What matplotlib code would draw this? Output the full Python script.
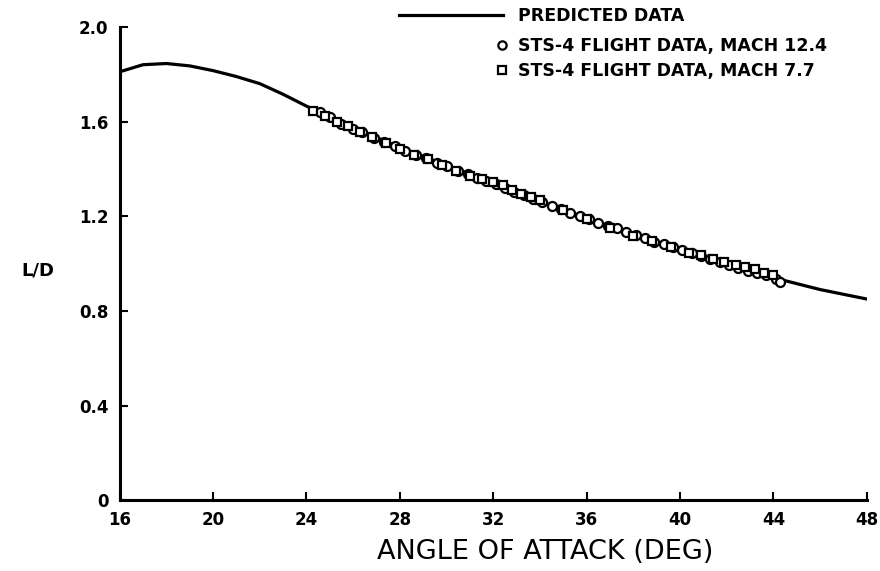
import matplotlib
matplotlib.use("Agg")
from matplotlib import pyplot as plt
from matplotlib.lines import Line2D

# predicted L/D curve
pred_aoa = [16, 17, 18, 19, 20, 21, 22, 23, 24, 26, 28, 30, 32, 34, 36, 38, 40, 42, 44, 46, 48]
pred_ld = [1.81, 1.84, 1.845, 1.835, 1.815, 1.79, 1.76, 1.715, 1.665, 1.575, 1.49, 1.415, 1.34,
           1.265, 1.19, 1.125, 1.06, 1.0, 0.94, 0.89, 0.85]

# STS-4 flight data, Mach 12.4 (circles)
m124_aoa = [24.6, 25.0, 25.5, 26.0, 26.4, 26.9, 27.3, 27.8, 28.2, 28.7, 29.1, 29.6, 30.0, 30.5,
            30.9, 31.3, 31.7, 32.1, 32.5, 32.9, 33.3, 33.7, 34.1, 34.5, 34.9, 35.3, 35.7, 36.1,
            36.5, 36.9, 37.3, 37.7, 38.1, 38.5, 38.9, 39.3, 39.7, 40.1, 40.5, 40.9, 41.3, 41.7,
            42.1, 42.5, 42.9, 43.3, 43.7, 44.1, 44.3]
m124_ld = [1.64, 1.62, 1.59, 1.57, 1.555, 1.53, 1.515, 1.495, 1.475, 1.46, 1.445, 1.425, 1.41, 1.39,
           1.378, 1.362, 1.35, 1.335, 1.318, 1.302, 1.29, 1.272, 1.26, 1.245, 1.232, 1.215, 1.2, 1.188,
           1.172, 1.16, 1.148, 1.133, 1.12, 1.108, 1.093, 1.082, 1.068, 1.055, 1.043, 1.03, 1.02, 1.005,
           0.995, 0.98, 0.97, 0.958, 0.95, 0.935, 0.92]

# STS-4 flight data, Mach 7.7 (squares)
m77_aoa = [24.3, 24.8, 25.3, 25.8, 26.3, 26.8, 27.4, 28.0, 28.6, 29.2, 29.8, 30.4, 31.0, 31.5,
           32.0, 32.4, 32.8, 33.2, 33.6, 34.0, 35.0, 36.0, 37.0, 38.0, 38.8, 39.6, 40.4, 40.9,
           41.4, 41.9, 42.4, 42.8, 43.2, 43.6, 44.0]
m77_ld = [1.645, 1.625, 1.6, 1.58, 1.555, 1.535, 1.51, 1.485, 1.46, 1.44, 1.415, 1.39, 1.37, 1.355,
          1.345, 1.33, 1.312, 1.295, 1.282, 1.268, 1.225, 1.19, 1.15, 1.118, 1.095, 1.07, 1.045, 1.035,
          1.02, 1.005, 0.995, 0.985, 0.975, 0.962, 0.95]

x_ticks = [16, 20, 24, 28, 32, 36, 40, 44, 48]
y_ticks = [0, 0.4, 0.8, 1.2, 1.6, 2.0]
y_labels = ["0", "0.4", "0.8", "1.2", "1.6", "2.0"]

fig = plt.figure(figsize=(8.8, 5.71), dpi=100)
ax = fig.add_axes([0.136, 0.124, 0.849, 0.829])

ax.plot(pred_aoa, pred_ld, color="black", lw=2.3, zorder=2)
ax.plot(m124_aoa, m124_ld, "o", mfc="white", mec="black", mew=1.6, ms=6.5, ls="none", zorder=3)
ax.plot(m77_aoa, m77_ld, "s", mfc="white", mec="black", mew=1.6, ms=6, ls="none", zorder=3)

ax.set_xlim(16, 48)
ax.set_ylim(0, 2.0)
ax.set_xticks(x_ticks)
ax.set_yticks(y_ticks)
ax.set_yticklabels(y_labels)
ax.tick_params(direction="in", length=6, width=1.5, labelsize=12, pad=8)
for lab in ax.get_xticklabels() + ax.get_yticklabels():
    lab.set_fontweight("bold")
for s in ["top", "right"]:
    ax.spines[s].set_visible(False)
for s in ["left", "bottom"]:
    ax.spines[s].set_linewidth(2.2)

ax.set_xlabel("ANGLE OF ATTACK (DEG)", fontsize=19.5, va="center")
ax.xaxis.set_label_coords(0.569, -0.11)
ax.set_ylabel("L/D", fontsize=13, rotation=0, va="center", ha="center", fontweight="bold")
ax.yaxis.set_label_coords(-0.11, 0.486)

# legend: long line for the prediction, short handles for the markers
fig.legend(handles=[Line2D([], [], color="black", lw=2.3)], labels=["PREDICTED DATA"],
           loc="upper left", bbox_to_anchor=(0.445, 1.0), handlelength=6.0,
           frameon=False, prop={"size": 12.5, "weight": "bold"}, handletextpad=0.9, borderaxespad=0)
fig.legend(handles=[Line2D([], [], marker="o", mfc="white", mec="black", mew=1.6, ms=6, ls="none"),
                    Line2D([], [], marker="s", mfc="white", mec="black", mew=1.6, ms=6, ls="none")],
           labels=["STS-4 FLIGHT DATA, MACH 12.4", "STS-4 FLIGHT DATA, MACH 7.7"],
           loc="upper left", bbox_to_anchor=(0.555, 0.948), handlelength=0.8,
           frameon=False, prop={"size": 12.5, "weight": "bold"}, handletextpad=0.5,
           labelspacing=0.45, borderaxespad=0)

fig.savefig("out.png", dpi=100)
